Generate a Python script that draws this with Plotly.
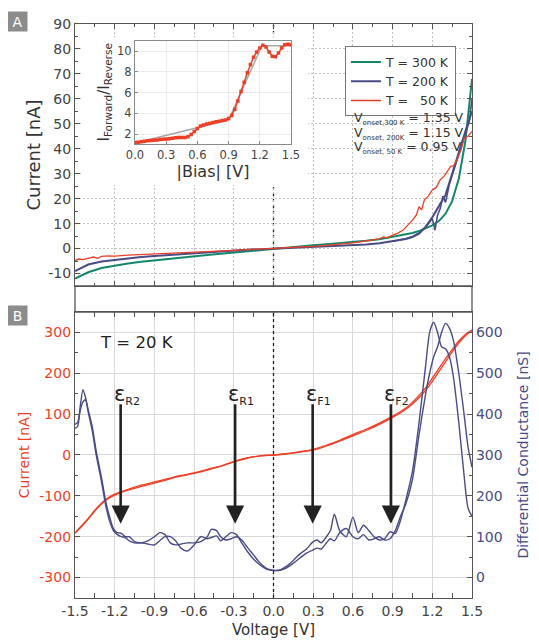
import plotly.graph_objects as go

FONT = "DejaVu Sans"
GREEN = "#14876b"
NAVY = "#4a4c86"
RED = "#ee3f26"
AX = "#555555"

# ---------------- Panel A data ----------------
v_a = [-1.5, -1.4, -1.3, -1.2, -1.1, -1.0, -0.9, -0.8, -0.7, -0.6, -0.5, -0.4, -0.3, -0.2, -0.1,
       0.0, 0.1, 0.2, 0.3, 0.4, 0.5, 0.6, 0.7, 0.8, 0.9, 1.0, 1.05, 1.1, 1.15, 1.2, 1.25, 1.3,
       1.35, 1.4, 1.45, 1.5]
i_300k = [-12.0, -9.5, -7.8, -6.8, -6.0, -5.3, -4.7, -4.1, -3.6, -3.1, -2.6, -2.1, -1.6, -1.05, -0.5,
          0.0, 0.45, 0.9, 1.3, 1.7, 2.1, 2.6, 3.1, 3.7, 4.6, 5.6, 6.2, 7.0, 8.0, 9.3, 11.0, 14.0,
          19.0, 28.0, 43.0, 68.0]
i_200k_a = [-9.0, -6.4, -5.2, -4.5, -3.9, -3.4, -3.0, -2.6, -2.2, -1.8, -1.45, -1.1, -0.8, -0.5, -0.25,
            0.0, 0.2, 0.4, 0.6, 0.8, 1.0, 1.3, 1.6, 2.1, 2.8, 3.8, 4.6, 6.0, 8.8, 12.5, 17.0, 21.5,
            30.0, 39.0, 47.0, 55.0]
v_200k_b = [0.9, 1.0, 1.05, 1.1, 1.15, 1.18, 1.2, 1.22, 1.24, 1.26, 1.28, 1.3, 1.33, 1.36, 1.39,
            1.42, 1.45, 1.48, 1.5]
i_200k_b = [2.9, 3.9, 4.8, 6.2, 8.5, 10.5, 12.0, 7.4, 13.5, 16.0, 21.0, 18.5, 26.0, 31.0, 36.0,
            42.0, 46.0, 51.0, 60.0]
v_50k = [-1.5, -1.47, -1.44, -1.4, -1.36, -1.33, -1.3, -1.25, -1.2, -1.1, -1.0, -0.9, -0.8, -0.7,
         -0.6, -0.5, -0.4, -0.3, -0.2, -0.1, 0.0, 0.1, 0.2, 0.3, 0.4, 0.5, 0.6, 0.65, 0.7, 0.75,
         0.8, 0.83, 0.86, 0.9, 0.94, 0.98, 1.02, 1.05, 1.08, 1.1, 1.12, 1.14, 1.17, 1.2, 1.23,
         1.26, 1.29, 1.32, 1.34, 1.36, 1.39, 1.42, 1.44, 1.47, 1.5]
i_50k = [-4.8, -4.2, -4.4, -3.8, -3.4, -3.9, -3.1, -2.9, -3.0, -2.6, -2.4, -2.1, -1.9, -1.6,
         -1.4, -1.2, -0.95, -0.7, -0.45, -0.2, 0.0, 0.3, 0.6, 0.9, 1.3, 1.7, 2.3, 2.7, 3.0, 3.4,
         3.9, 4.7, 4.3, 5.4, 6.2, 7.4, 9.5, 11.4, 13.5, 16.8, 15.5, 19.5, 21.0, 23.5, 24.5,
         27.6, 29.0, 31.5, 33.0, 33.0, 36.0, 40.0, 44.0, 45.0, 47.0]

# inset: forward/reverse ratio
v_ratio = [0.00, 0.03, 0.06, 0.09, 0.12, 0.15, 0.18, 0.21, 0.24, 0.27, 0.30, 0.33, 0.36, 0.39,
           0.42, 0.45, 0.48, 0.51, 0.54, 0.57, 0.60, 0.63, 0.66, 0.69, 0.72, 0.75, 0.78, 0.81,
           0.84, 0.87, 0.90, 0.93, 0.96, 0.99, 1.02, 1.05, 1.08, 1.11, 1.14, 1.17, 1.20, 1.23,
           1.26, 1.29, 1.32, 1.35, 1.38, 1.41, 1.44, 1.47, 1.50]
ratio = [1.18, 1.22, 1.27, 1.31, 1.35, 1.38, 1.41, 1.44, 1.47, 1.50, 1.53, 1.56, 1.60, 1.64,
         1.67, 1.68, 1.68, 1.75, 1.95, 2.25, 2.55, 2.78, 2.88, 2.97, 3.05, 3.12, 3.20, 3.25,
         3.30, 3.36, 3.50, 3.80, 4.40, 5.20, 6.10, 7.00, 7.90, 8.70, 9.40, 9.90, 10.30, 10.55,
         10.40, 9.90, 9.50, 9.45, 9.80, 10.30, 10.60, 10.65, 10.60]
v_fit = [0.0, 0.9, 1.22, 1.5]
ratio_fit = [1.15, 3.35, 10.5, 10.5]

# ---------------- Panel B data ----------------
v_b = [-1.5, -1.45, -1.4, -1.35, -1.3, -1.25, -1.2, -1.1, -1.0, -0.9, -0.8, -0.7, -0.6, -0.5,
       -0.4, -0.3, -0.2, -0.1, 0.0, 0.1, 0.2, 0.3, 0.4, 0.5, 0.6, 0.7, 0.8, 0.9, 1.0, 1.05, 1.1,
       1.15, 1.2, 1.25, 1.3, 1.35, 1.4, 1.45, 1.5]
i_20k_a = [-191, -175, -157, -137, -120, -107, -98, -86, -77, -69, -60, -52, -45, -37,
           -28, -17, -8, -2, 0, 3, 7, 12, 22, 34, 47, 60, 75, 92, 112, 125, 140,
           158, 180, 204, 228, 252, 274, 292, 304]
i_20k_b = [-191, -173, -155, -135, -118, -105, -96, -84, -74, -66, -58, -50, -44, -35,
           -27, -16, -7, -2, 0, 3, 8, 14, 24, 36, 50, 63, 78, 95, 115, 129, 146,
           165, 188, 212, 236, 258, 279, 295, 306]

v_g = [-1.5, -1.48, -1.46, -1.44, -1.42, -1.4, -1.37, -1.34, -1.3, -1.27, -1.24, -1.21, -1.18,
       -1.15, -1.12, -1.09, -1.05, -1.0, -0.95, -0.9, -0.86, -0.82, -0.78, -0.74, -0.7, -0.65,
       -0.6, -0.55, -0.5, -0.47, -0.43, -0.4, -0.36, -0.32, -0.28, -0.24, -0.2, -0.15, -0.1,
       -0.05, 0.0, 0.05, 0.1, 0.15, 0.2, 0.25, 0.3, 0.33, 0.36, 0.4, 0.43, 0.46, 0.5, 0.55,
       0.6, 0.64, 0.68, 0.72, 0.76, 0.8, 0.84, 0.88, 0.92, 0.96, 1.0, 1.05, 1.1, 1.15, 1.18,
       1.21, 1.24, 1.27, 1.3, 1.33, 1.36, 1.4, 1.44, 1.47, 1.5]
g_20k_a = [365, 370, 420, 460, 440, 405, 360, 300, 235, 180, 140, 115, 105,
           100, 98, 90, 85, 85, 90, 100, 110, 105, 85, 80, 82, 85,
           85, 88, 100, 118, 115, 100, 92, 95, 100, 92, 75, 55, 35,
           22, 18, 19, 28, 42, 58, 70, 88, 92, 85, 100, 115, 155, 115, 100,
           148, 110, 128, 115, 100, 92, 95, 112, 108, 140, 190, 260, 380, 520, 600,
           625, 600, 565, 560, 540, 490, 380, 250, 170, 150]
g_20k_b = [375, 380, 410, 430, 435, 410, 370, 310, 245, 190, 150, 120, 110,
           108, 100, 100, 88, 85, 82, 80, 90, 100, 100, 90, 72, 65,
           80, 100, 95, 98, 102, 90, 100, 110, 105, 85, 65, 45, 30,
           20, 17, 18, 24, 35, 48, 60, 68, 72, 70, 85, 95, 90, 110, 120,
           100, 95, 105, 92, 95, 100, 92, 95, 115, 150, 180, 240, 350, 450, 500,
           540, 565, 600, 622, 610, 580, 500, 400, 320, 270]

# arrows
arrow_v = [-1.155, -0.29, 0.296, 0.887]
arrow_lbl = ["R2", "R1", "F1", "F2"]

# ticks
x_ticks = [-1.5, -1.2, -0.9, -0.6, -0.3, 0.0, 0.3, 0.6, 0.9, 1.2, 1.5]
x_ticktext = ["-1.5", "-1.2", "-0.9", "-0.6", "-0.3", "0.0", "0.3", "0.6", "0.9", "1.2", "1.5"]
ya_ticks = [-10, 0, 10, 20, 30, 40, 50, 60, 70, 80, 90]
ya_ticktext = ["-10", "0", "10", "20", "30", "40", "50", "60", "70", "80", "90"]
yb_ticks = [-300, -200, -100, 0, 100, 200, 300]
yb_ticktext = ["-300", "-200", "-100", "0", "100", "200", "300"]
yc_ticks = [0, 100, 200, 300, 400, 500, 600]
ins_xticks = [0.0, 0.3, 0.6, 0.9, 1.2, 1.5]
ins_xticktext = ["0.0", "0.3", "0.6", "0.9", "1.2", "1.5"]
ins_yticks = [2, 4, 6, 8, 10]

fig = go.Figure()

# Panel A traces
fig.add_trace(go.Scatter(x=v_a, y=i_300k, mode="lines", name="T = 300 K",
                         line=dict(color=GREEN, width=2), xaxis="x", yaxis="y"))
fig.add_trace(go.Scatter(x=v_a, y=i_200k_a, mode="lines", name="T = 200 K",
                         line=dict(color=NAVY, width=2), xaxis="x", yaxis="y"))
fig.add_trace(go.Scatter(x=v_200k_b, y=i_200k_b, mode="lines", showlegend=False,
                         line=dict(color=NAVY, width=1.6), xaxis="x", yaxis="y"))
fig.add_trace(go.Scatter(x=v_50k, y=i_50k, mode="lines", name="T = \u00a0\u00a050 K",
                         line=dict(color=RED, width=1.3), xaxis="x", yaxis="y"))

# Panel B traces
fig.add_trace(go.Scatter(x=v_b, y=i_20k_a, mode="lines", showlegend=False, line_shape="spline",
                         line=dict(color=RED, width=1.3), xaxis="x2", yaxis="y2"))
fig.add_trace(go.Scatter(x=v_b, y=i_20k_b, mode="lines", showlegend=False, line_shape="spline",
                         line=dict(color=RED, width=1.3), xaxis="x2", yaxis="y2"))
fig.add_trace(go.Scatter(x=v_g, y=g_20k_a, mode="lines", showlegend=False, line_shape="spline",
                         line=dict(color=NAVY, width=1.4, smoothing=0.7), xaxis="x2", yaxis="y3"))
fig.add_trace(go.Scatter(x=v_g, y=g_20k_b, mode="lines", showlegend=False, line_shape="spline",
                         line=dict(color=NAVY, width=1.4, smoothing=0.7), xaxis="x2", yaxis="y3"))

# empty backdrop subplot (white background behind the inset)
fig.add_trace(go.Scatter(x=[], y=[], mode="lines", showlegend=False, hoverinfo="skip",
                         xaxis="x4", yaxis="y4"))
# inset
fig.add_trace(go.Scatter(x=v_fit, y=ratio_fit, mode="lines", showlegend=False,
                         line=dict(color="#a8a8a8", width=1.5), xaxis="x5", yaxis="y5"))
fig.add_trace(go.Scatter(x=v_ratio, y=ratio, mode="lines+markers", showlegend=False,
                         line=dict(color=RED, width=1.5),
                         marker=dict(color=RED, size=3.5, symbol="square"),
                         xaxis="x5", yaxis="y5"))

tickfont = dict(family=FONT, size=14, color="#444444")
common_ax = dict(showline=True, linecolor=AX, linewidth=1.3, ticks="inside", ticklen=5,
                 tickcolor=AX, tickwidth=1.2, automargin=False)

TOP_DOM = [0.5436, 1.0]
BOT_DOM = [0.0, 0.4983]
GRID_A = "#c2c2c2"
GRID_B = "#d8d8d8"

# page body has an 8px margin -> figure is 8px smaller and margins shifted
fig.update_layout(
    width=531, height=635,
    margin=dict(l=67, r=67, t=16, b=45),
    paper_bgcolor="white", plot_bgcolor="white",
    font=dict(family=FONT, color="#333333"),
    showlegend=True,
    legend=dict(x=0.68, y=0.961, xanchor="left", yanchor="top",
                bordercolor="#777777", borderwidth=1, bgcolor="white",
                font=dict(family=FONT, size=12.5, color="#333333"),
                tracegroupgap=0, itemwidth=30),
    xaxis=dict(domain=[0, 1], range=[-1.5, 1.5], anchor="y", tickmode="array",
               tickvals=x_ticks, showticklabels=False, mirror="allticks",
               showgrid=True, gridcolor=GRID_A, griddash="2px,2px", gridwidth=1,
               zeroline=False,
               minor=dict(ticks="inside", ticklen=3, dtick=0.15, tick0=-1.5, tickcolor=AX),
               **common_ax),
    yaxis=dict(domain=TOP_DOM, range=[-15, 90], anchor="x", tickmode="array",
               tickvals=ya_ticks, ticktext=ya_ticktext, tickfont=tickfont, mirror="allticks",
               showgrid=True, gridcolor=GRID_A, griddash="2px,2px", gridwidth=1,
               zeroline=False,
               title=dict(text="Current [nA]", font=dict(family=FONT, size=18, color="#333333"),
                          standoff=2),
               minor=dict(ticks="inside", ticklen=3, dtick=5, tick0=0, tickcolor=AX),
               **common_ax),
    xaxis2=dict(domain=[0, 1], range=[-1.5, 1.5], anchor="y2", tickmode="array",
                tickvals=x_ticks, ticktext=x_ticktext, tickfont=tickfont, mirror="allticks",
                showgrid=True, gridcolor=GRID_B, gridwidth=1, zeroline=False,
                title=dict(text="Voltage [V]", font=dict(family=FONT, size=15, color="#333333"),
                           standoff=6),
                minor=dict(ticks="inside", ticklen=3, dtick=0.15, tick0=-1.5, tickcolor=AX),
                **common_ax),
    yaxis2=dict(domain=BOT_DOM, range=[-350, 350], anchor="x2", tickmode="array",
                tickvals=yb_ticks, ticktext=yb_ticktext,
                tickfont=dict(family=FONT, size=14, color=RED), mirror=False,
                showgrid=True, gridcolor=GRID_B, gridwidth=1, zeroline=False,
                title=dict(text="Current [nA]", font=dict(family=FONT, size=14, color=RED),
                           standoff=6),
                minor=dict(ticks="inside", ticklen=3, dtick=50, tick0=0, tickcolor=AX),
                **common_ax),
    yaxis3=dict(range=[-50, 650], overlaying="y2", side="right", anchor="x2",
                tickmode="array", tickvals=yc_ticks,
                tickfont=dict(family=FONT, size=14, color=NAVY),
                showgrid=False, zeroline=False,
                title=dict(text="Differential Conductance [nS]",
                           font=dict(family=FONT, size=14, color=NAVY), standoff=16),
                minor=dict(ticks="inside", ticklen=3, dtick=50, tick0=0, tickcolor=AX),
                **common_ax),
    xaxis4=dict(domain=[0.015, 0.587], range=[0, 1], anchor="y4", visible=False),
    yaxis4=dict(domain=[0.7195, 0.977], range=[0, 1], anchor="x4", visible=False),
    xaxis5=dict(domain=[0.1511, 0.544], range=[0, 1.5], anchor="y5", tickmode="array",
                tickvals=ins_xticks, ticktext=ins_xticktext,
                tickfont=dict(family=FONT, size=11.5, color="#444444"),
                showline=True, linecolor="#8a8a8a", linewidth=1, mirror=True,
                ticks="inside", ticklen=3, tickcolor="#8a8a8a",
                showgrid=True, gridcolor="#ebebeb", zeroline=False, automargin=False,
                title=dict(text="|Bias| [V]", font=dict(family=FONT, size=16, color="#333333"),
                           standoff=4)),
    yaxis5=dict(domain=[0.791, 0.971], range=[1.05, 11], anchor="x5", tickmode="array",
                tickvals=ins_yticks,
                tickfont=dict(family=FONT, size=11.5, color="#444444"),
                showline=True, linecolor="#8a8a8a", linewidth=1, mirror=True,
                ticks="inside", ticklen=3, tickcolor="#8a8a8a",
                showgrid=True, gridcolor="#ebebeb", zeroline=False, automargin=False,
                title=dict(text="I<sub>Forward</sub>/I<sub>Reverse</sub>",
                           font=dict(family=FONT, size=15, color="#333333"), standoff=3)),
)

shapes = []
# dotted zero-voltage lines
shapes.append(dict(type="line", xref="x", yref="y domain", x0=0, x1=0, y0=0, y1=1,
                   line=dict(color="#222222", width=1.3, dash="dot"), layer="below"))
shapes.append(dict(type="line", xref="x2", yref="y2 domain", x0=0, x1=0, y0=0, y1=1,
                   line=dict(color="#222222", width=1.3, dash="dot"), layer="above"))
# strip between panels
shapes.append(dict(type="rect", xref="paper", yref="paper", x0=0, x1=1, y0=0.4983, y1=0.5436,
                   line=dict(color=AX, width=1.3), fillcolor="rgba(0,0,0,0)", layer="above"))
fig.update_layout(shapes=shapes)

ann = []
# panel labels
for lbl, yy in [("A", 1.004), ("B", 0.492)]:
    ann.append(dict(text=lbl, xref="paper", yref="paper", x=-0.145, y=yy, showarrow=False,
                    font=dict(family=FONT, size=14, color="white"), bgcolor="#8c8c8c",
                    width=17, height=17, xanchor="center", yanchor="middle"))
# onset voltages
onset_txt = [("V<sub><span style='font-size:7px'>onset,300 K</span></sub> = 1.35 V", 0.8345),
             ("V<sub><span style='font-size:7px'>onset, 200K</span></sub> = 1.15 V", 0.8092),
             ("V<sub><span style='font-size:7px'>onset, 50 K</span></sub> = 0.95 V", 0.784)]
for t, yy in onset_txt:
    ann.append(dict(text=t, xref="paper", yref="paper", x=0.698, y=yy, showarrow=False,
                    xanchor="left", yanchor="middle",
                    font=dict(family=FONT, size=12.5, color="#333333")))
# T = 20 K
ann.append(dict(text="T = 20 K", xref="x2", yref="y2", x=-1.33, y=275, showarrow=False,
                xanchor="left", yanchor="middle", font=dict(family=FONT, size=16.5, color="#222222")))
# arrows and epsilon labels
for xv, lb in zip(arrow_v, arrow_lbl):
    ann.append(dict(text="", xref="x2", yref="y2", x=xv, y=-168, axref="x2", ayref="y2",
                    ax=xv, ay=128, showarrow=True, arrowhead=2, arrowsize=1.4, arrowwidth=2.6,
                    arrowcolor="#222222"))
    ann.append(dict(text="\u03b5<sub><span style='font-size:11px'>%s</span></sub>" % lb,
                    xref="x2", yref="y2", x=xv, y=148, xshift=-9, showarrow=False,
                    xanchor="left", yanchor="middle",
                    font=dict(family=FONT, size=21, color="#222222")))
fig.update_layout(annotations=ann)

fig.write_html("out.html")
